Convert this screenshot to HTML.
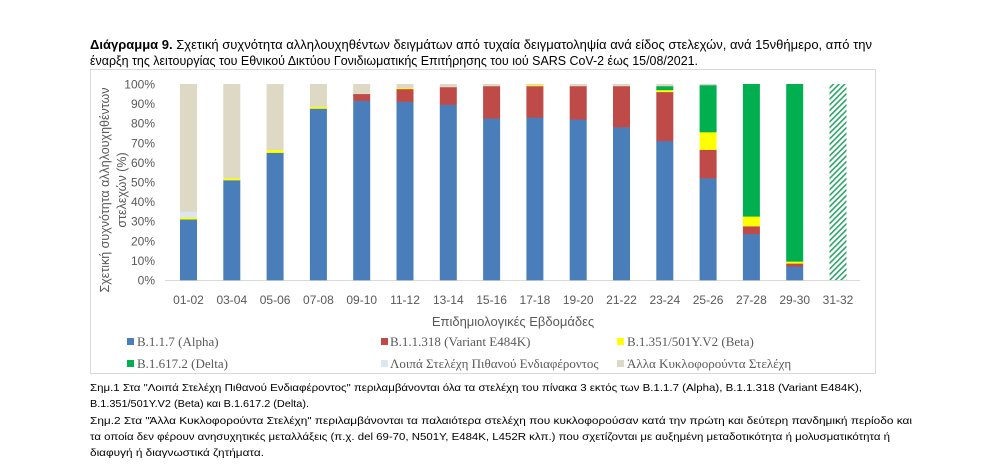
<!DOCTYPE html>
<html><head><meta charset="utf-8"><style>
html,body{margin:0;padding:0;background:#fff;width:1000px;height:468px;overflow:hidden}
svg text{font-family:"Liberation Sans","DejaVu Sans",sans-serif}
.serif{font-family:"Liberation Serif","DejaVu Serif",serif}
</style></head><body>
<svg id="s" width="1000" height="468" xmlns="http://www.w3.org/2000/svg">
<defs>
<pattern id="hatch" width="4" height="4" patternUnits="userSpaceOnUse" patternTransform="rotate(45)">
<rect width="4" height="4" fill="#fff"/><rect width="1.6" height="4" fill="#2ea36a"/>
</pattern>
</defs>
<text x="90" y="49" font-size="12.5" fill="#000" textLength="782" lengthAdjust="spacingAndGlyphs"><tspan font-weight="bold">Διάγραμμα 9.</tspan> Σχετική συχνότητα αλληλουχηθέντων δειγμάτων από τυχαία δειγματοληψία ανά είδος στελεχών, ανά 15νθήμερο, από την</text>
<text x="90" y="65" font-size="12.5" fill="#000" textLength="608" lengthAdjust="spacingAndGlyphs">έναρξη της λειτουργίας του Εθνικού Δικτύου Γονιδιωματικής Επιτήρησης του ιού SARS CoV-2 έως 15/08/2021.</text>
<rect x="90.5" y="69.5" width="785" height="304" fill="none" stroke="#d9d9d9"/>
<g id="ticks" font-size="12" fill="#595959" text-anchor="end"></g>
<line x1="165" y1="280.5" x2="860" y2="280.5" stroke="#d9d9d9"/>
<g id="bars"></g>
<g id="xl" font-size="12" fill="#595959" text-anchor="middle"></g>
<text x="513" y="326" font-size="13" fill="#595959" text-anchor="middle">Επιδημιολογικές Εβδομάδες</text>
<text transform="translate(109,190) rotate(-90)" font-size="12.5" fill="#595959" text-anchor="middle" textLength="205" lengthAdjust="spacingAndGlyphs">Σχετική συχνότητα αλληλουχηθέντων</text>
<text transform="translate(126,190) rotate(-90)" font-size="12.5" fill="#595959" text-anchor="middle">στελεχών (%)</text>
<g class="serif" font-size="13" fill="#595959">
<rect x="127" y="338" width="7" height="7" fill="#4a7ebb"/><text class="serif" x="137" y="346">B.1.1.7 (Alpha)</text>
<rect x="381" y="338" width="7" height="7" fill="#be4b48"/><text class="serif" x="390" y="346">B.1.1.318 (Variant E484K)</text>
<rect x="617" y="338" width="7" height="7" fill="#ffff00"/><text class="serif" x="627" y="346">B.1.351/501Y.V2 (Beta)</text>
<rect x="127" y="360" width="7" height="7" fill="#00b050"/><text class="serif" x="137" y="368">B.1.617.2 (Delta)</text>
<rect x="381" y="360" width="7" height="7" fill="#dce6f2"/><text class="serif" x="390" y="368">Λοιπά Στελέχη Πιθανού Ενδιαφέροντος</text>
<rect x="617" y="360" width="7" height="7" fill="#ddd9c4"/><text class="serif" x="627" y="368">Άλλα Κυκλοφορούντα Στελέχη</text>
</g>
<g font-size="10.5" fill="#000">
<text x="90" y="391" textLength="772" lengthAdjust="spacingAndGlyphs">Σημ.1 Στα "Λοιπά Στελέχη Πιθανού Ενδιαφέροντος" περιλαμβάνονται όλα τα στελέχη του πίνακα 3 εκτός των B.1.1.7 (Alpha), B.1.1.318 (Variant E484K),</text>
<text x="90" y="407" textLength="219" lengthAdjust="spacingAndGlyphs">B.1.351/501Y.V2 (Beta) και B.1.617.2 (Delta).</text>
<text x="90" y="424" textLength="822" lengthAdjust="spacingAndGlyphs">Σημ.2 Στα "Άλλα Κυκλοφορούντα Στελέχη" περιλαμβάνονται τα παλαιότερα στελέχη που κυκλοφορούσαν κατά την πρώτη και δεύτερη πανδημική περίοδο και</text>
<text x="90" y="440" textLength="800" lengthAdjust="spacingAndGlyphs">τα οποία δεν φέρουν ανησυχητικές μεταλλάξεις (π.χ. del 69-70, N501Y, E484K, L452R κλπ.) που σχετίζονται με αυξημένη μεταδοτικότητα ή μολυσματικότητα ή</text>
<text x="90" y="456" textLength="174" lengthAdjust="spacingAndGlyphs">διαφυγή ή διαγνωστικά ζητήματα.</text>
</g>
</svg>
<script>
var NS="http://www.w3.org/2000/svg";
function el(p,t,a,txt){var e=document.createElementNS(NS,t);for(var k in a)e.setAttribute(k,a[k]);if(txt)e.textContent=txt;p.appendChild(e);return e;}
function Y(p){return 280-1.96*p;}
var tk=document.getElementById("ticks");
for(var i=0;i<=10;i++)el(tk,"text",{x:155,y:Y(i*10)+4.5},(i*10)+"%");
var cols=["#4a7ebb","#be4b48","#ffff00","#00b050","#dce6f2","#ddd9c4"];
var data=[[31,0,1,0,3],[51,0,1,0,0],[65,0,1.5,0,0],[87.5,0,1,0,0],[91.5,3.5,0,0,0],[91,6.5,0.5,0,0],[89.5,9,0,0,0],[82.5,16.5,0,0,0],[83,16,0.5,0,0],[82,17,0,0,0],[78,21,0,0,0],[71,25,1,2,0],[52,14.5,9,24,0],[23.5,4,5,67.5,0],[7,1.5,1,90.5,0]];
var labs=["01-02","03-04","05-06","07-08","09-10","11-12","13-14","15-16","17-18","19-20","21-22","23-24","25-26","27-28","29-30","31-32"];
var b=document.getElementById("bars"),xl=document.getElementById("xl");
for(var i=0;i<16;i++){
 var cx=188.5+43.3*i,x=cx-8.5;
 el(xl,"text",{x:cx,y:304},labs[i]);
 if(i==15){el(b,"rect",{x:x,y:Y(100),width:17,height:196,fill:"url(#hatch)"});continue;}
 var d=data[i],acc=0;
 for(var j=0;j<6;j++){var v=j<5?d[j]:Math.max(0,100-acc);if(j==5&&v<0.3)continue;if(v<=0)continue;
  el(b,"rect",{x:x,y:Y(acc+v),width:17,height:v*1.96+0.3,fill:cols[j]});acc+=v;}
}
</script>
</body></html>
